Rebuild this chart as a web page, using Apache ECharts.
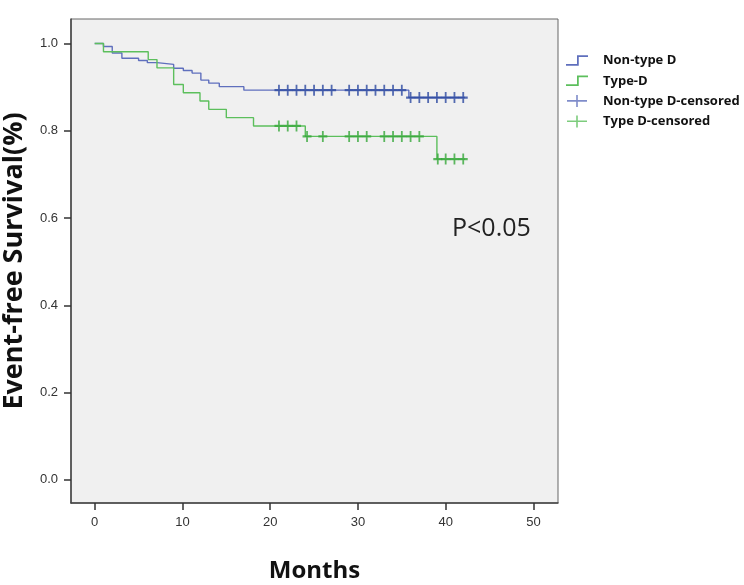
<!DOCTYPE html>
<html>
<head>
<meta charset="utf-8">
<script src="https://cdn.jsdelivr.net/npm/echarts@6/dist/echarts.min.js"></script>
<style>html,body{margin:0;padding:0;background:#fff;}#c{width:744px;height:585px;}</style>
</head>
<body>
<div id="c"></div>
<script>
// Survival step curves (time in months, survival proportion after the event)
const nonTypeDTime = [0, 1, 2, 3.1, 5, 6, 7.1, 9, 10.1, 11.1, 12.1, 13, 14.2, 17, 35.8, 42.2];
const nonTypeDSurv = [1.0, 0.993, 0.978, 0.966, 0.961, 0.956, 0.952, 0.943, 0.938, 0.932, 0.916, 0.909, 0.901, 0.893, 0.876, 0.876];
const typeDTime = [0, 1, 6.1, 7.1, 9, 10.1, 12, 13, 15, 18.1, 24, 39, 42.2];
const typeDSurv = [1.0, 0.981, 0.963, 0.944, 0.906, 0.887, 0.868, 0.849, 0.830, 0.811, 0.787, 0.735, 0.735];
// Censored observations
const nonTypeDCensTime = [21, 22, 23, 24, 25, 26, 27, 29, 30, 31, 32, 33, 34, 35, 36, 37, 38, 39, 40, 41, 42];
const nonTypeDCensSurv = [0.893, 0.893, 0.893, 0.893, 0.893, 0.893, 0.893, 0.893, 0.893, 0.893, 0.893, 0.893, 0.893, 0.893, 0.876, 0.876, 0.876, 0.876, 0.876, 0.876, 0.876];
const typeDCensTime = [21, 22, 23, 24.2, 26, 29, 30, 31, 33, 34, 35, 36, 37, 39.1, 40, 41, 42];
const typeDCensSurv = [0.811, 0.811, 0.811, 0.787, 0.787, 0.787, 0.787, 0.787, 0.787, 0.787, 0.787, 0.787, 0.787, 0.735, 0.735, 0.735, 0.735];
// Axis ticks and labels
const xTicks = [0, 10, 20, 30, 40, 50];
const yTicks = [0, 0.2, 0.4, 0.6, 0.8, 1.0];
const seriesNames = ['Non-type D', 'Type-D', 'Non-type D-censored', 'Type D-censored'];
const pText = 'P<0.05';

const zip = (a, b) => a.map((v, i) => [v, b[i]]);
const blue = '#5f6fbd', green = '#5cbf5c', blueC = '#2c48a0', greenC = '#36a83a';
const stepIcon = 'path://M0,9 L10,9 L10,1 L20,1 L20,2.6 L11.6,2.6 L11.6,10.6 L0,10.6 Z';
const plusIcon = 'path://M0,5 L20,5 L20,6.6 L0,6.6 Z M9.2,0 L10.8,0 L10.8,12 L9.2,12 Z';
const plusSym = 'path://M0,4 L10,4 L10,6 L0,6 Z M4,0 L6,0 L6,10 L4,10 Z';

const chart = echarts.init(document.getElementById('c'), null, {renderer: 'canvas'});
chart.setOption({
  animation: false,
  backgroundColor: '#ffffff',
  grid: {left: 71, right: 186, top: 19, bottom: 82, outerBoundsMode: 'none', containLabel: false,
         show: true, backgroundColor: '#f0f0f0', borderColor: '#666', borderWidth: 1},
  legend: {
    orient: 'vertical', left: 561, top: 49, itemWidth: 22, itemHeight: 12, itemGap: 7.3,
    textStyle: {fontFamily: 'Open Sans', fontWeight: 'bold', fontSize: 13, color: '#111', padding: [0, 0, 0, 10]},
    data: [
      {name: seriesNames[0], icon: stepIcon, itemStyle: {color: blue, borderWidth: 0}},
      {name: seriesNames[1], icon: stepIcon, itemStyle: {color: green, borderWidth: 0}},
      {name: seriesNames[2], icon: plusIcon, itemStyle: {color: blue, borderWidth: 0}},
      {name: seriesNames[3], icon: plusIcon, itemStyle: {color: green, borderWidth: 0}}
    ]
  },
  xAxis: {
    type: 'value', min: -2.7, max: 52.8,
    name: 'Months', nameLocation: 'middle', nameGap: 56,
    nameTextStyle: {fontFamily: 'Open Sans', fontWeight: 'bold', fontSize: 24, color: '#111'},
    axisLine: {show: true, onZero: false, lineStyle: {color: '#444', width: 1.5}},
    axisTick: {show: true, length: 7, customValues: xTicks, lineStyle: {color: '#333', width: 1.5}},
    axisLabel: {customValues: xTicks, fontFamily: 'Liberation Sans', fontSize: 13, color: '#333', margin: 13},
    splitLine: {show: false}
  },
  yAxis: {
    type: 'value', min: -0.053, max: 1.056,
    name: 'Event-free Survival(%)', nameLocation: 'middle', nameGap: 43,
    nameTextStyle: {fontFamily: 'Open Sans', fontWeight: 'bold', fontSize: 27, color: '#111'},
    axisLine: {show: true, onZero: false, lineStyle: {color: '#444', width: 1.5}},
    axisTick: {show: true, length: 7, customValues: yTicks, lineStyle: {color: '#333', width: 1.5}},
    axisLabel: {customValues: yTicks, formatter: v => v.toFixed(1), fontFamily: 'Liberation Sans', fontSize: 13, color: '#333', margin: 13},
    splitLine: {show: false}
  },
  graphic: [{
    type: 'text', x: 452, y: 229,
    style: {text: pText, fontFamily: 'Open Sans', fontSize: 25, fill: '#222', verticalAlign: 'middle'}
  }],
  series: [
    {name: seriesNames[0], type: 'line', step: 'end', showSymbol: false, color: blue,
     lineStyle: {color: blue, width: 1.4}, data: zip(nonTypeDTime, nonTypeDSurv), z: 2},
    {name: seriesNames[1], type: 'line', step: 'end', showSymbol: false, color: green,
     lineStyle: {color: green, width: 1.4}, data: zip(typeDTime, typeDSurv), z: 2},
    {name: seriesNames[2], type: 'scatter', symbol: plusSym, symbolSize: [9, 11], color: blueC,
     itemStyle: {color: blueC}, data: zip(nonTypeDCensTime, nonTypeDCensSurv), z: 3},
    {name: seriesNames[3], type: 'scatter', symbol: plusSym, symbolSize: [9, 11], color: greenC,
     itemStyle: {color: greenC}, data: zip(typeDCensTime, typeDCensSurv), z: 3}
  ]
});
</script>
</body>
</html>
